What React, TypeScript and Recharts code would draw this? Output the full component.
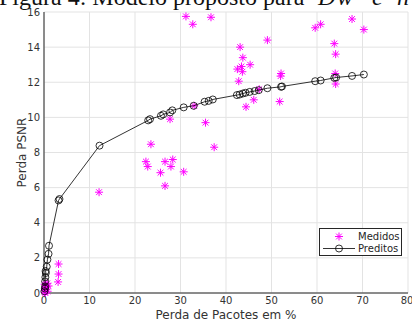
import { ScatterChart, Scatter, XAxis, YAxis, CartesianGrid, Legend } from "recharts";

// measured packet loss (%) vs PSNR loss
const medidosX = [
  0.1, 0.2, 0.3, 0.4, 0.5, 0.6, 0.15, 0.8, 1.0, 0.3, 0.7, 0.25,
  3.1, 3.2, 3.2, 12.1,
  22.4, 22.8, 23.5, 25.6, 26.6, 26.6, 27.9, 28.3, 30.7, 27.7, 33.0, 35.5, 37.4,
  31.2, 32.7, 36.7,
  42.8, 42.5, 43.6, 43.4, 45.3, 43.7, 43.1, 49.1, 44.4, 46.1, 47.3,
  52.1, 52.0, 51.8,
  59.6, 60.8, 67.7, 70.3, 63.8, 64.1, 64.0, 64.1,
];
const medidosY = [
  0.05, 0.15, 0.3, 0.45, 0.2, 0.35, 0.5, 0.1, 0.4, 0.0, 0.55, 0.25,
  0.63, 1.08, 1.65, 5.74,
  7.48, 7.2, 8.47, 6.85, 7.48, 6.1, 7.2, 7.6, 6.9, 9.9, 10.66, 9.7, 8.3,
  15.75, 15.3, 15.7,
  12.06, 12.75, 12.6, 12.9, 13.0, 13.4, 14.0, 14.4, 10.6, 11.0, 11.6,
  12.5, 12.35, 10.9,
  15.1, 15.3, 15.6, 15.0, 14.2, 13.6, 12.5, 11.9,
];

// model prediction
const preditosX = [
  0.1, 0.2, 0.25, 0.25, 0.3, 0.4, 0.35, 0.6, 0.75, 1.0, 1.1, 3.2, 3.4, 12.2,
  22.9, 23.3, 25.7, 26.2, 27.7, 28.2, 30.7, 32.9, 35.3, 36.2, 37.1,
  42.4, 43.0, 43.7, 44.3, 45.2, 46.3, 47.2, 49.1, 52.1, 52.3,
  59.6, 60.8, 63.8, 64.2, 67.7, 70.3,
];
const preditosY = [
  0.1, 0.25, 0.37, 0.66, 0.9, 1.14, 1.25, 1.5, 1.9, 2.23, 2.69, 5.27, 5.35, 8.39,
  9.83, 9.9, 10.09, 10.17, 10.28, 10.4, 10.57, 10.66, 10.89, 10.94, 11.02,
  11.27, 11.3, 11.36, 11.4, 11.45, 11.5, 11.55, 11.66, 11.74, 11.76,
  12.06, 12.1, 12.25, 12.27, 12.36, 12.44,
];

const xTicks = [0, 10, 20, 30, 40, 50, 60, 70, 80];
const yTicks = [0, 2, 4, 6, 8, 10, 12, 14, 16];

const medidos = medidosX.map((x, i) => ({ x, y: medidosY[i] }));
const preditos = preditosX.map((x, i) => ({ x, y: preditosY[i] }));

const FONT = "'DejaVu Sans', sans-serif";

function Star(props: any) {
  const { cx, cy } = props;
  const r = 4;
  const d = r * 0.72;
  return (
    <g stroke="#ff00ff" strokeWidth={1}>
      <line x1={cx} y1={cy - r} x2={cx} y2={cy + r} />
      <line x1={cx - r} y1={cy} x2={cx + r} y2={cy} />
      <line x1={cx - d} y1={cy - d} x2={cx + d} y2={cy + d} />
      <line x1={cx - d} y1={cy + d} x2={cx + d} y2={cy - d} />
    </g>
  );
}

function Ring(props: any) {
  const { cx, cy } = props;
  return <circle cx={cx} cy={cy} r={3.5} fill="none" stroke="#000" strokeWidth={0.8} />;
}

function LegendBox() {
  return (
    <div
      style={{
        border: "1px solid #262626",
        background: "#fff",
        width: 81,
        height: 26,
        fontFamily: FONT,
        fontSize: 10,
        color: "#262626",
      }}
    >
      <svg width={81} height={26}>
        <Star cx={19} cy={7.5} />
        <text x={38} y={11} fontSize={10} fill="#262626">Medidos</text>
        <line x1={3} y1={19.5} x2={35} y2={19.5} stroke="#000" strokeWidth={0.8} />
        <Ring cx={19} cy={19.5} />
        <text x={38} y={23} fontSize={10} fill="#262626">Preditos</text>
      </svg>
    </div>
  );
}

export default function App() {
  return (
    <div style={{ position: "absolute", left: 0, top: 0, width: 412, height: 320, overflow: "hidden", background: "#fff" }}>
      <svg style={{ position: "absolute", left: 0, top: 0 }} width={412} height={16}>
        <text y={5} fontFamily="'Liberation Serif', serif" fontSize={24} fill="#111">
          <tspan x={-1}>Figura 4: Modelo proposto para</tspan>
          <tspan x={318} fontStyle="italic">D</tspan>
          <tspan x={337} fontStyle="italic">w</tspan>
          <tspan x={372} fontStyle="italic">e</tspan>
          <tspan x={397} fontStyle="italic">n</tspan>
        </text>
      </svg>
      <ScatterChart width={412} height={320} margin={{ top: 12, right: 4, left: 0, bottom: 0 }}>
        <CartesianGrid stroke="#e3e3e3" strokeWidth={1} />
        <XAxis
          type="number"
          dataKey="x"
          domain={[0, 80]}
          ticks={xTicks}
          height={27}
          tickLine={false}
          tickSize={4}
          tickMargin={0}
          stroke="#262626"
          tick={{ fill: "#333", fontSize: 10, fontFamily: FONT }}
          label={{ value: "Perda de Pacotes em %", position: "insideBottom", offset: 1, fill: "#333", fontSize: 12, fontFamily: FONT }}
        />
        <YAxis
          type="number"
          dataKey="y"
          domain={[0, 16]}
          ticks={yTicks}
          width={44}
          tickLine={false}
          tickSize={4}
          tickMargin={0}
          stroke="#262626"
          tick={{ fill: "#333", fontSize: 10, fontFamily: FONT }}
          label={{ value: "Perda PSNR", angle: -90, position: "insideLeft", offset: 22, fill: "#333", fontSize: 12, fontFamily: FONT, style: { textAnchor: "middle" } }}
        />
        <Legend
          align="center"
          verticalAlign="middle"
          layout="horizontal"
          content={() => <LegendBox />}
          wrapperStyle={{ left: 319, top: 228, width: 83, height: 28 }}
        />
        <Scatter name="Medidos" data={medidos} shape={<Star />} isAnimationActive={false} />
        <Scatter
          name="Preditos"
          data={preditos}
          shape={<Ring />}
          line={{ stroke: "#000", strokeWidth: 0.8 }}
          isAnimationActive={false}
        />
      </ScatterChart>
    </div>
  );
}
